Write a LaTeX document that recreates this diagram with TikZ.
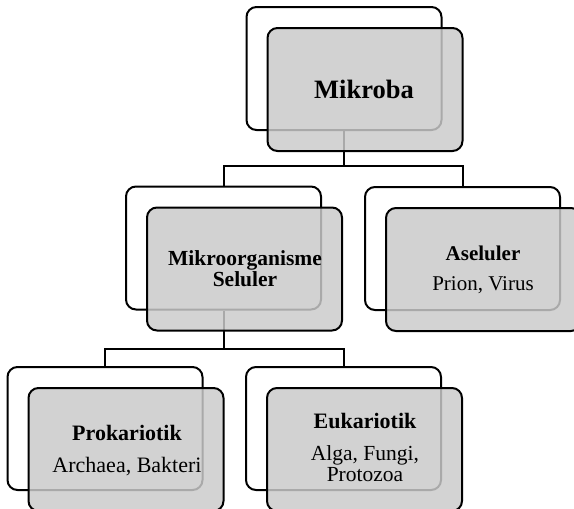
\documentclass[tikz,border=0pt]{standalone}
\usepackage{fontspec}
\setmainfont{Liberation Serif}
\definecolor{boxgray}{RGB}{202,202,202}
\begin{document}
\begin{tikzpicture}[x=1pt,y=-1pt,
  back/.style={draw=black, line width=2pt, rounded corners=10pt, fill=white,
    minimum width=195pt, minimum height=123pt, inner sep=0pt},
  front/.style={draw=black, line width=2pt, rounded corners=10pt, fill=boxgray,
    fill opacity=0.84, draw opacity=1,
    minimum width=195pt, minimum height=123pt, inner sep=0pt},
  conn/.style={line width=2pt, line join=miter},
  lbl/.style={anchor=base, inner sep=0pt, font=\fontsize{21.5}{24}\selectfont},
  hd/.style={anchor=base, inner sep=0pt, font=\fontsize{22}{24}\selectfont\bfseries}]
\useasboundingbox (0,0) rectangle (574,509);
\clip (0,0) rectangle (574,509);
% back boxes
\node[back] (b1) at (344,68.5) {};
\node[back] (b2) at (223.5,248) {};
\node[back] (b3) at (462.5,248.5) {};
\node[back] (b4) at (105,428.5) {};
\node[back] (b5) at (343.5,428.5) {};
% connectors
\coordinate (j1) at (344,166);
\coordinate (j2) at (223.5,349);
\draw[conn] (b1.south) -- (j1);
\draw[conn] (b2.north) |- (j1) -| (b3.north);
\draw[conn] (b2.south) -- (j2);
\draw[conn] (b4.north) |- (j2) -| (b5.north);
% front boxes
\node[front] (f1) at (365,89.5) {};
\node[front] (f2) at (244.5,269) {};
\node[front] (f3) at (483.5,269.5) {};
\node[front] (f4) at (126,449.5) {};
\node[front] (f5) at (364.5,449.5) {};
% texts
\node[hd, font=\fontsize{26.5}{30}\selectfont\bfseries] (t1) at (364,98.3) {Mikroba};
\node[hd, font=\fontsize{21.5}{24}\selectfont\bfseries] (t2a) at (245,265) {Mikroorganisme};
\node[hd, font=\fontsize{21.5}{24}\selectfont\bfseries] (t2b) at (245,286.7) {Seluler};
\node[hd, font=\fontsize{21}{24}\selectfont\bfseries] (t3a) at (483,260) {Aseluler};
\node[lbl, font=\fontsize{21}{24}\selectfont] (t3b) at (483,290) {Prion, Virus};
\node[hd] (t4a) at (127,440) {Prokariotik};
\node[lbl, font=\fontsize{22}{24}\selectfont] (t4b) at (127,472.7) {Archaea, Bakteri};
\node[hd] (t5a) at (365,428.3) {Eukariotik};
\node[lbl] (t5b) at (365,460.7) {Alga, Fungi,};
\node[lbl] (t5c) at (365,481.7) {Protozoa};
\end{tikzpicture}
\end{document}
